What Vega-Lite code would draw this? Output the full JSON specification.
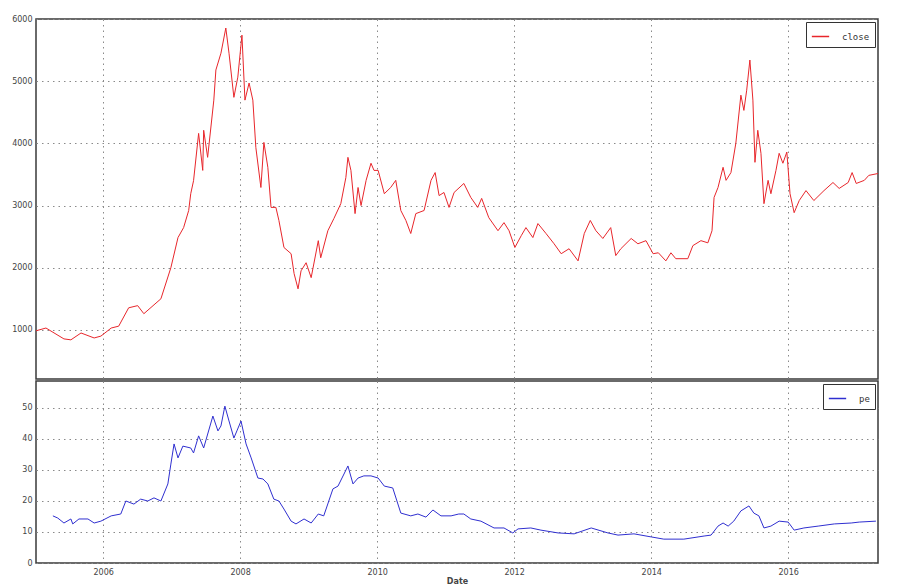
{
  "$schema": "https://vega.github.io/schema/vega-lite/v6.json",
  "padding": {"left": 5, "top": 14, "right": 5, "bottom": 0},
  "spacing": 0,
  "config": {
    "font": "DejaVu Sans",
    "view": {"stroke": "#3a3a3a", "strokeWidth": 1.5},
    "axis": {
      "domain": false,
      "ticks": false,
      "grid": true,
      "gridColor": "#8a8a8a",
      "gridDash": [1.5, 4],
      "gridWidth": 1,
      "labelFontSize": 8,
      "labelColor": "#444",
      "labelPadding": 4
    },
    "legend": {
      "orient": "top-right",
      "offset": 3,
      "strokeColor": "#333",
      "fillColor": "white",
      "padding": 5,
      "cornerRadius": 0,
      "symbolType": "stroke",
      "symbolSize": 300,
      "symbolStrokeWidth": 1.5,
      "labelFont": "DejaVu Sans Mono",
      "labelFontSize": 9,
      "labelColor": "#333",
      "labelOffset": 12
    }
  },
  "resolve": {"scale": {"color": "independent"}, "legend": {"color": "independent"}},
  "datasets": {
    "close": [
      {"date":"2005-01-08","close":985},{"date":"2005-03-02","close":1030},{"date":"2005-06-06","close":855},{"date":"2005-07-13","close":840},{"date":"2005-09-05","close":950},{"date":"2005-11-14","close":870},{"date":"2005-12-20","close":900},{"date":"2006-02-13","close":1030},{"date":"2006-03-25","close":1060},{"date":"2006-05-17","close":1355},{"date":"2006-07-04","close":1390},{"date":"2006-08-06","close":1260},{"date":"2006-11-05","close":1500},{"date":"2006-12-28","close":2000},{"date":"2007-02-04","close":2485},{"date":"2007-03-06","close":2645},{"date":"2007-04-02","close":2920},{"date":"2007-04-13","close":3190},{"date":"2007-04-28","close":3400},{"date":"2007-05-25","close":4160},{"date":"2007-06-16","close":3565},{"date":"2007-06-21","close":4210},{"date":"2007-07-12","close":3775},{"date":"2007-08-14","close":4695},{"date":"2007-08-25","close":5180},{"date":"2007-09-21","close":5450},{"date":"2007-10-17","close":5855},{"date":"2007-11-03","close":5450},{"date":"2007-11-29","close":4740},{"date":"2007-12-20","close":5065},{"date":"2008-01-11","close":5740},{"date":"2008-01-27","close":4695},{"date":"2008-02-18","close":4970},{"date":"2008-03-09","close":4695},{"date":"2008-03-25","close":3935},{"date":"2008-04-21","close":3290},{"date":"2008-05-07","close":4015},{"date":"2008-05-28","close":3615},{"date":"2008-06-14","close":2970},{"date":"2008-07-10","close":2970},{"date":"2008-07-26","close":2760},{"date":"2008-08-22","close":2325},{"date":"2008-09-29","close":2225},{"date":"2008-10-15","close":1905},{"date":"2008-11-05","close":1660},{"date":"2008-11-21","close":1950},{"date":"2008-12-18","close":2080},{"date":"2009-01-14","close":1840},{"date":"2009-02-21","close":2435},{"date":"2009-03-06","close":2160},{"date":"2009-04-13","close":2595},{"date":"2009-05-15","close":2790},{"date":"2009-06-21","close":3030},{"date":"2009-07-18","close":3450},{"date":"2009-07-29","close":3775},{"date":"2009-08-14","close":3565},{"date":"2009-09-05","close":2870},{"date":"2009-09-21","close":3290},{"date":"2009-10-07","close":3000},{"date":"2009-11-03","close":3405},{"date":"2009-11-29","close":3680},{"date":"2009-12-15","close":3565},{"date":"2010-01-06","close":3565},{"date":"2010-02-08","close":3190},{"date":"2010-03-14","close":3290},{"date":"2010-04-10","close":3405},{"date":"2010-05-07","close":2920},{"date":"2010-06-03","close":2760},{"date":"2010-06-29","close":2550},{"date":"2010-07-26","close":2870},{"date":"2010-09-08","close":2920},{"date":"2010-10-15","close":3405},{"date":"2010-11-06","close":3530},{"date":"2010-11-27","close":3160},{"date":"2010-12-23","close":3210},{"date":"2011-01-19","close":2970},{"date":"2011-02-15","close":3210},{"date":"2011-04-08","close":3355},{"date":"2011-05-15","close":3130},{"date":"2011-06-21","close":2970},{"date":"2011-07-12","close":3115},{"date":"2011-08-19","close":2805},{"date":"2011-10-07","close":2595},{"date":"2011-11-08","close":2725},{"date":"2011-12-05","close":2595},{"date":"2012-01-05","close":2325},{"date":"2012-02-08","close":2515},{"date":"2012-03-04","close":2645},{"date":"2012-04-10","close":2485},{"date":"2012-05-07","close":2710},{"date":"2012-06-19","close":2550},{"date":"2012-08-01","close":2385},{"date":"2012-09-08","close":2225},{"date":"2012-10-20","close":2305},{"date":"2012-12-07","close":2110},{"date":"2013-01-09","close":2550},{"date":"2013-02-10","close":2760},{"date":"2013-03-12","close":2595},{"date":"2013-04-18","close":2470},{"date":"2013-05-30","close":2645},{"date":"2013-06-26","close":2195},{"date":"2013-07-23","close":2305},{"date":"2013-09-16","close":2470},{"date":"2013-10-22","close":2385},{"date":"2013-12-04","close":2435},{"date":"2014-01-11","close":2225},{"date":"2014-02-08","close":2240},{"date":"2014-03-20","close":2110},{"date":"2014-04-16","close":2240},{"date":"2014-05-12","close":2145},{"date":"2014-07-15","close":2145},{"date":"2014-08-11","close":2355},{"date":"2014-09-23","close":2435},{"date":"2014-10-30","close":2400},{"date":"2014-11-21","close":2595},{"date":"2014-12-02","close":3130},{"date":"2014-12-23","close":3290},{"date":"2015-01-19","close":3615},{"date":"2015-02-04","close":3405},{"date":"2015-03-02","close":3530},{"date":"2015-03-28","close":4000},{"date":"2015-04-24","close":4775},{"date":"2015-05-10","close":4530},{"date":"2015-05-25","close":4855},{"date":"2015-06-11","close":5340},{"date":"2015-06-27","close":4695},{"date":"2015-07-08","close":3695},{"date":"2015-07-23","close":4210},{"date":"2015-08-09","close":3840},{"date":"2015-08-25","close":3030},{"date":"2015-09-16","close":3405},{"date":"2015-10-01","close":3190},{"date":"2015-10-28","close":3565},{"date":"2015-11-14","close":3840},{"date":"2015-12-04","close":3680},{"date":"2015-12-25","close":3860},{"date":"2016-01-11","close":3190},{"date":"2016-02-02","close":2885},{"date":"2016-02-29","close":3080},{"date":"2016-04-05","close":3240},{"date":"2016-05-17","close":3080},{"date":"2016-07-10","close":3240},{"date":"2016-08-27","close":3370},{"date":"2016-09-29","close":3275},{"date":"2016-11-16","close":3370},{"date":"2016-12-07","close":3530},{"date":"2016-12-29","close":3355},{"date":"2017-02-10","close":3405},{"date":"2017-03-06","close":3485},{"date":"2017-04-24","close":3515}
    ],
    "pe": [
      {"date":"2005-04-08","pe":15.2},{"date":"2005-05-04","pe":14.5},{"date":"2005-06-06","pe":12.9},{"date":"2005-07-13","pe":14.2},{"date":"2005-07-23","pe":12.6},{"date":"2005-08-25","pe":14.2},{"date":"2005-10-12","pe":14.2},{"date":"2005-11-14","pe":12.9},{"date":"2005-12-20","pe":13.5},{"date":"2006-02-13","pe":15.2},{"date":"2006-04-05","pe":15.8},{"date":"2006-05-02","pe":20},{"date":"2006-06-14","pe":19.0},{"date":"2006-07-20","pe":20.6},{"date":"2006-08-27","pe":20},{"date":"2006-09-29","pe":21},{"date":"2006-11-05","pe":20},{"date":"2006-12-12","pe":25.5},{"date":"2006-12-28","pe":31.9},{"date":"2007-01-14","pe":38.4},{"date":"2007-02-04","pe":33.9},{"date":"2007-03-02","pe":37.7},{"date":"2007-04-13","pe":37.1},{"date":"2007-04-28","pe":35.5},{"date":"2007-05-25","pe":41.0},{"date":"2007-06-21","pe":37.1},{"date":"2007-08-09","pe":47.4},{"date":"2007-09-05","pe":42.6},{"date":"2007-09-21","pe":44.2},{"date":"2007-10-12","pe":50.6},{"date":"2007-11-03","pe":45.8},{"date":"2007-11-29","pe":40.3},{"date":"2007-12-15","pe":42.6},{"date":"2008-01-06","pe":45.8},{"date":"2008-02-02","pe":38.4},{"date":"2008-02-29","pe":33.9},{"date":"2008-04-05","pe":27.4},{"date":"2008-05-02","pe":27.1},{"date":"2008-05-28","pe":25.5},{"date":"2008-06-29","pe":20.6},{"date":"2008-07-26","pe":20},{"date":"2008-08-22","pe":17.4},{"date":"2008-09-29","pe":13.5},{"date":"2008-10-25","pe":12.6},{"date":"2008-12-07","pe":14.2},{"date":"2009-01-14","pe":12.9},{"date":"2009-02-21","pe":15.8},{"date":"2009-03-22","pe":15.2},{"date":"2009-05-10","pe":23.9},{"date":"2009-06-06","pe":24.8},{"date":"2009-07-08","pe":28.7},{"date":"2009-07-29","pe":31.3},{"date":"2009-08-25","pe":25.5},{"date":"2009-09-21","pe":27.4},{"date":"2009-10-22","pe":28.1},{"date":"2009-11-29","pe":28.1},{"date":"2010-01-06","pe":27.4},{"date":"2010-02-08","pe":24.8},{"date":"2010-03-25","pe":24.2},{"date":"2010-05-07","pe":16.1},{"date":"2010-06-29","pe":15.2},{"date":"2010-08-06","pe":15.8},{"date":"2010-09-18","pe":14.8},{"date":"2010-10-25","pe":17.1},{"date":"2010-12-07","pe":15.2},{"date":"2011-01-30","pe":15.2},{"date":"2011-03-12","pe":15.8},{"date":"2011-04-08","pe":15.8},{"date":"2011-05-15","pe":14.2},{"date":"2011-07-08","pe":13.5},{"date":"2011-09-16","pe":11.3},{"date":"2011-11-08","pe":11.3},{"date":"2011-12-25","pe":9.7},{"date":"2012-01-22","pe":11.0},{"date":"2012-03-30","pe":11.3},{"date":"2012-05-23","pe":10.6},{"date":"2012-08-22","pe":9.7},{"date":"2012-11-16","pe":9.4},{"date":"2013-02-15","pe":11.3},{"date":"2013-05-15","pe":9.7},{"date":"2013-07-08","pe":9.0},{"date":"2013-10-01","pe":9.4},{"date":"2014-01-02","pe":8.4},{"date":"2014-03-09","pe":7.7},{"date":"2014-06-24","pe":7.7},{"date":"2014-10-10","pe":8.7},{"date":"2014-11-16","pe":9.0},{"date":"2014-12-23","pe":11.9},{"date":"2015-01-19","pe":12.9},{"date":"2015-02-15","pe":11.9},{"date":"2015-03-17","pe":13.5},{"date":"2015-04-24","pe":16.8},{"date":"2015-06-06","pe":18.4},{"date":"2015-07-02","pe":16.1},{"date":"2015-07-29","pe":15.2},{"date":"2015-08-25","pe":11.3},{"date":"2015-10-01","pe":11.9},{"date":"2015-11-14","pe":13.5},{"date":"2016-01-01","pe":13.2},{"date":"2016-02-02","pe":10.6},{"date":"2016-03-25","pe":11.3},{"date":"2016-06-09","pe":11.9},{"date":"2016-09-03","pe":12.6},{"date":"2016-12-02","pe":12.9},{"date":"2017-01-14","pe":13.2},{"date":"2017-04-13","pe":13.5}
    ]
  },
  "vconcat": [
    {
      "width": 842,
      "height": 360,
      "data": {"name": "close"},
      "mark": {"type": "line", "strokeWidth": 1, "clip": true},
      "encoding": {
        "x": {
          "field": "date", "type": "temporal",
          "scale": {"type": "utc", "domain": [{"year": 2005, "month": 1, "date": 8, "utc": true}, {"year": 2017, "month": 4, "date": 24, "utc": true}]},
          "axis": {"labels": false, "title": null, "minExtent": 0, "maxExtent": 0, "labelPadding": 0,
            "values": [{"year": 2006, "utc": true}, {"year": 2008, "utc": true}, {"year": 2010, "utc": true}, {"year": 2012, "utc": true}, {"year": 2014, "utc": true}, {"year": 2016, "utc": true}]}
        },
        "y": {
          "field": "close", "type": "quantitative",
          "scale": {"domain": [210, 6000], "nice": false, "zero": false},
          "axis": {"title": null, "format": "d", "values": [1000, 2000, 3000, 4000, 5000, 6000], "minExtent": 30, "maxExtent": 30}
        },
        "color": {"datum": "close", "type": "nominal", "scale": {"range": ["#e8262b"]}, "legend": {"title": null}}
      }
    },
    {
      "width": 842,
      "height": 182,
      "data": {"name": "pe"},
      "mark": {"type": "line", "strokeWidth": 1, "clip": true},
      "encoding": {
        "x": {
          "field": "date", "type": "temporal",
          "scale": {"type": "utc", "domain": [{"year": 2005, "month": 1, "date": 8, "utc": true}, {"year": 2017, "month": 4, "date": 24, "utc": true}]},
          "axis": {"title": "Date", "titleFontSize": 8, "titleFontWeight": "bold", "titleColor": "#444", "titlePadding": 1, "format": "%Y", "labelPadding": 5,
            "values": [{"year": 2006, "utc": true}, {"year": 2008, "utc": true}, {"year": 2010, "utc": true}, {"year": 2012, "utc": true}, {"year": 2014, "utc": true}, {"year": 2016, "utc": true}]}
        },
        "y": {
          "field": "pe", "type": "quantitative",
          "scale": {"domain": [0, 58.7], "nice": false},
          "axis": {"title": null, "format": "d", "values": [0, 10, 20, 30, 40, 50], "minExtent": 30, "maxExtent": 30}
        },
        "color": {"datum": "pe", "type": "nominal", "scale": {"range": ["#2f2fd0"]}, "legend": {"title": null}}
      }
    }
  ]
}
